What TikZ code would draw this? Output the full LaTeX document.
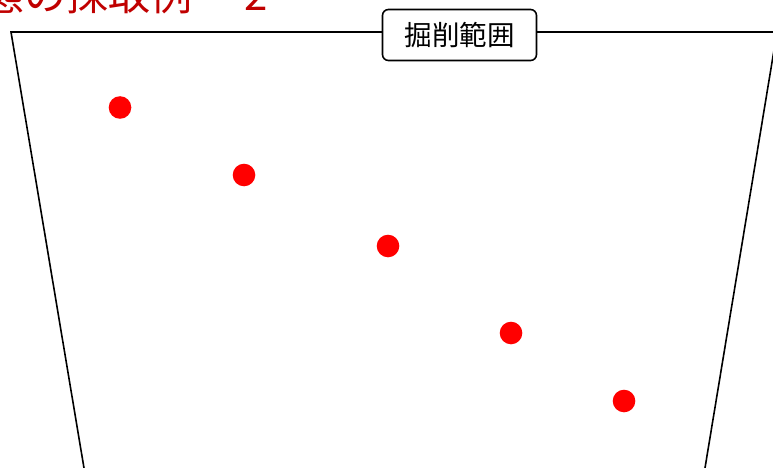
\documentclass[tikz,border=0pt]{standalone}
\usepackage{fontspec}
\newfontfamily\jpfont{Noto Sans CJK JP}
\definecolor{titlered}{HTML}{C00000}
\definecolor{dotred}{HTML}{FF0000}
\begin{document}
\begin{tikzpicture}[x=1pt,y=-1pt,
  outline/.style={line width=1.6pt, line join=miter},
  sample/.style={circle, fill=dotred, minimum size=22.6pt, inner sep=0pt},
  labelbox/.style={draw, line width=1.6pt, rounded corners=6pt, fill=white,
    minimum width=154pt, minimum height=51pt, inner sep=0pt,
    font=\jpfont\fontsize{27.5}{32}\selectfont}]
\useasboundingbox (0,0) rectangle (773,468);
% title (cut at the top)
\node[anchor=base west, inner sep=0pt, text=titlered,
  font=\jpfont\fontsize{42}{50}\selectfont] (title) at (-18,11)
  {態の採取例\hspace{1.25em}2};
% excavation outline
\coordinate (bl) at (86,480);
\coordinate (tl) at (11,32);
\coordinate (tr) at (777,32);
\coordinate (br) at (703,480);
\draw[outline] (bl) -- (tl) -- (tr) -- (br);
\node[labelbox] (lab) at (459.5,35) {掘削範囲};
% sample points
\node[sample] (p1) at (120,107.5) {};
\node[sample] (p2) at (244,175) {};
\node[sample] (p3) at (388,246) {};
\node[sample] (p4) at (511,333) {};
\node[sample] (p5) at (624,401) {};
\end{tikzpicture}
\end{document}
